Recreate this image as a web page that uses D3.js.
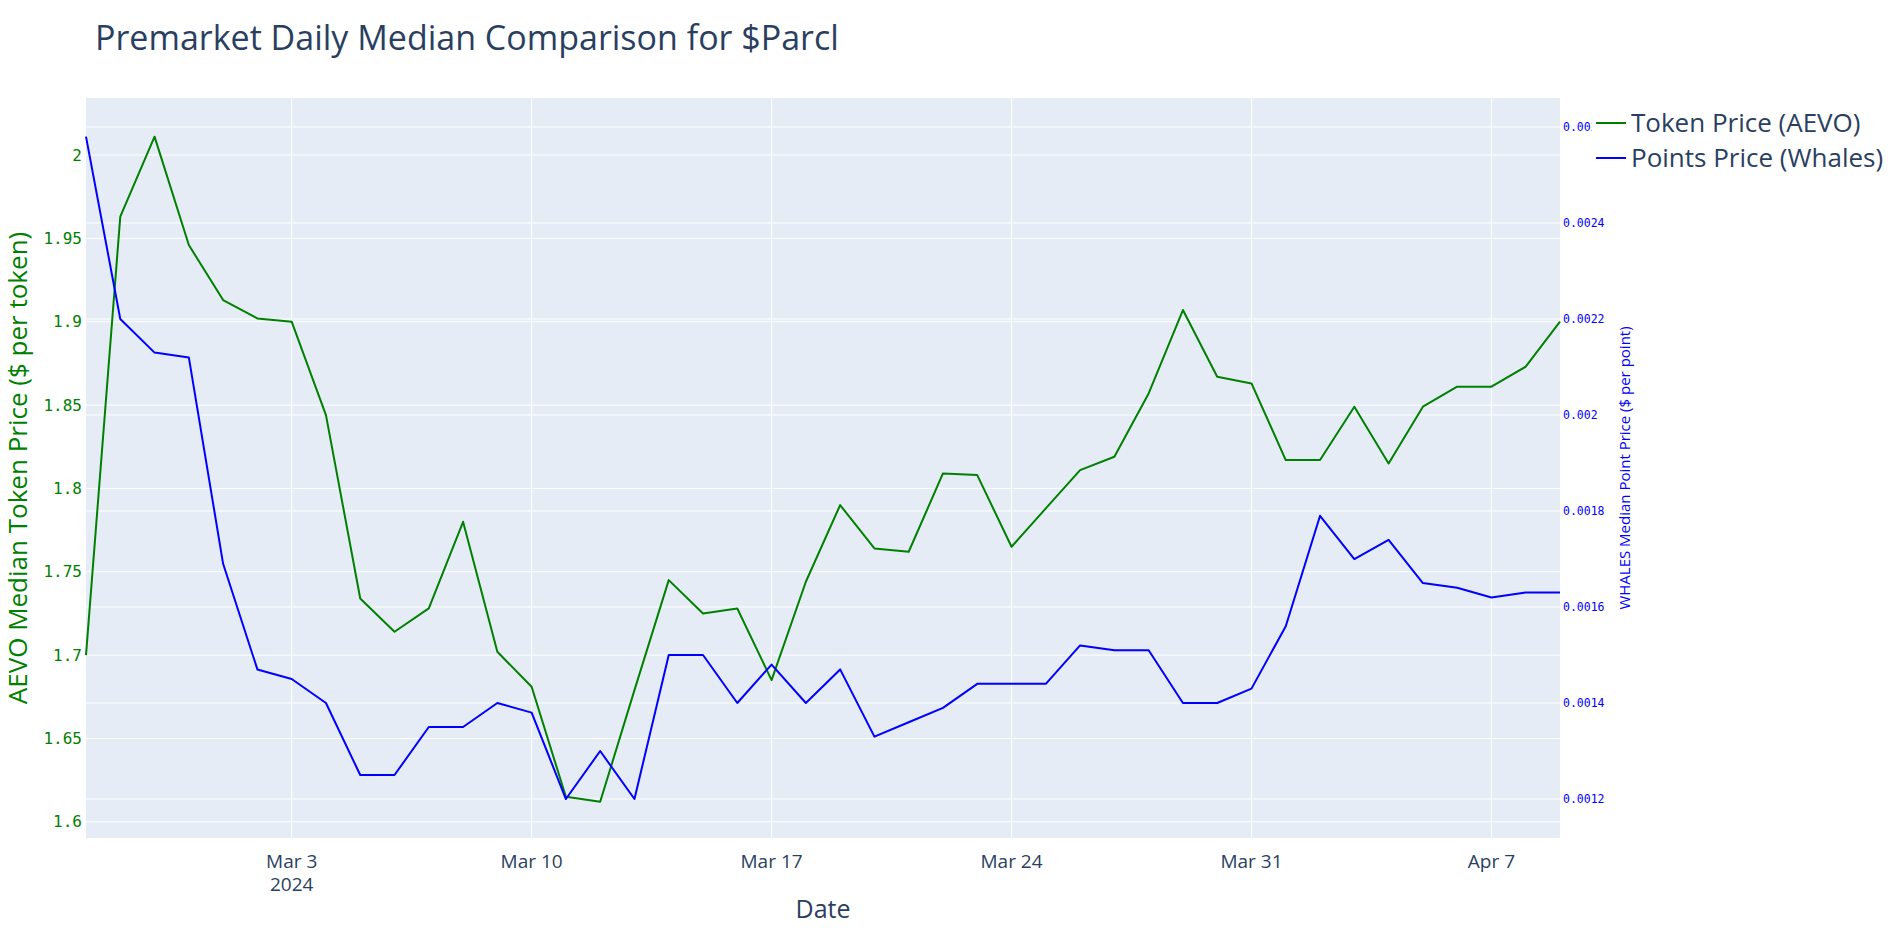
<!DOCTYPE html>
<html>
<head>
<meta charset="utf-8">
<script src="https://d3js.org/d3.v7.min.js"></script>
<style>
  body { margin: 0; background: #fff; }
  svg { display: block; }
</style>
</head>
<body>
<div id="chart"></div>
<script>
// daily dates, Feb 26 -> Apr 9 2024
var dates = [
  "2024-02-26","2024-02-27","2024-02-28","2024-02-29","2024-03-01","2024-03-02","2024-03-03",
  "2024-03-04","2024-03-05","2024-03-06","2024-03-07","2024-03-08","2024-03-09","2024-03-10",
  "2024-03-11","2024-03-12","2024-03-13","2024-03-14","2024-03-15","2024-03-16","2024-03-17",
  "2024-03-18","2024-03-19","2024-03-20","2024-03-21","2024-03-22","2024-03-23","2024-03-24",
  "2024-03-25","2024-03-26","2024-03-27","2024-03-28","2024-03-29","2024-03-30","2024-03-31",
  "2024-04-01","2024-04-02","2024-04-03","2024-04-04","2024-04-05","2024-04-06","2024-04-07",
  "2024-04-08","2024-04-09"
]

// AEVO median token price ($ per token)
var tokenPrice = [
  1.700, 1.963, 2.011, 1.946, 1.913, 1.902, 1.900,
  1.844, 1.734, 1.714, 1.728, 1.780, 1.702, 1.681,
  1.615, 1.612, 1.679, 1.745, 1.725, 1.728, 1.685,
  1.744, 1.790, 1.764, 1.762, 1.809, 1.808, 1.765,
  1.788, 1.811, 1.819, 1.857, 1.907, 1.867, 1.863,
  1.817, 1.817, 1.849, 1.815, 1.849, 1.861, 1.861,
  1.873, 1.900
]

// WHALES median point price ($ per point)
var pointPrice = [
  0.00258, 0.00220, 0.00213, 0.00212, 0.00169, 0.00147, 0.00145,
  0.00140, 0.00125, 0.00125, 0.00135, 0.00135, 0.00140, 0.00138,
  0.00120, 0.00130, 0.00120, 0.00150, 0.00150, 0.00140, 0.00148,
  0.00140, 0.00147, 0.00133, 0.00136, 0.00139, 0.00144, 0.00144,
  0.00144, 0.00152, 0.00151, 0.00151, 0.00140, 0.00140, 0.00143,
  0.00156, 0.00179, 0.00170, 0.00174, 0.00165, 0.00164, 0.00162,
  0.00163, 0.00163
]

var leftTicks  = [1.6, 1.65, 1.7, 1.75, 1.8, 1.85, 1.9, 1.95, 2]
var rightTicks = [0.0012, 0.0014, 0.0016, 0.0018, 0.002, 0.0022, 0.0024, 0.0026]
var xTicks = ["2024-03-03","2024-03-10","2024-03-17","2024-03-24","2024-03-31","2024-04-07"]

var seriesNames = ["Token Price (AEVO)", "Points Price (Whales)"]
var seriesColors = ["green", "blue"]

var W = 1904, H = 929
var plot = { left: 86, right: 1560, top: 98, bottom: 838 }
var sans = "'Open Sans', sans-serif"
var mono = "'DejaVu Sans Mono', monospace"

var svg = d3.select("#chart").append("svg")
  .attr("width", W).attr("height", H)

var parse = d3.utcParse("%Y-%m-%d")
var xDates = dates.map(parse)

var x = d3.scaleUtc()
  .domain(d3.extent(xDates))
  .range([plot.left, plot.right])

var yL = d3.scaleLinear()
  .domain([1.5903, 2.0342])
  .range([plot.bottom, plot.top])

var yR = d3.scaleLinear()
  .domain([0.0011188, 0.0026604])
  .range([plot.bottom, plot.top])

// plot background
svg.append("rect")
  .attr("x", plot.left).attr("y", plot.top)
  .attr("width", plot.right - plot.left).attr("height", plot.bottom - plot.top)
  .attr("fill", "#E5ECF6")

// grids
var grid = svg.append("g").attr("stroke", "#fff").attr("stroke-width", 1)
grid.selectAll(".gx").data(xTicks.map(parse)).enter().append("line")
  .attr("x1", d => x(d)).attr("x2", d => x(d))
  .attr("y1", plot.top).attr("y2", plot.bottom)
grid.selectAll(".gl").data(leftTicks).enter().append("line")
  .attr("x1", plot.left).attr("x2", plot.right)
  .attr("y1", d => yL(d)).attr("y2", d => yL(d))
grid.selectAll(".gr").data(rightTicks).enter().append("line")
  .attr("x1", plot.left).attr("x2", plot.right)
  .attr("y1", d => yR(d)).attr("y2", d => yR(d))

// lines
var lineL = d3.line().x((d, i) => x(xDates[i])).y(d => yL(d))
var lineR = d3.line().x((d, i) => x(xDates[i])).y(d => yR(d))

svg.append("path").datum(tokenPrice)
  .attr("d", lineL).attr("fill", "none")
  .attr("stroke", seriesColors[0]).attr("stroke-width", 2)
  .attr("stroke-linejoin", "round")
svg.append("path").datum(pointPrice)
  .attr("d", lineR).attr("fill", "none")
  .attr("stroke", seriesColors[1]).attr("stroke-width", 2)
  .attr("stroke-linejoin", "round")

// left axis labels
svg.append("g").selectAll("text").data(leftTicks).enter().append("text")
  .attr("x", 82).attr("y", d => yL(d))
  .attr("dy", "0.35em")
  .attr("text-anchor", "end")
  .attr("font-family", mono)
  .attr("font-size", 16)
  .attr("fill", "green")
  .text(d => d)

// right axis labels
svg.append("g").selectAll("text").data(rightTicks).enter().append("text")
  .attr("x", 1563).attr("y", d => yR(d))
  .attr("dy", "0.35em")
  .attr("font-family", mono)
  .attr("font-size", 11.5)
  .attr("fill", "blue")
  .text(d => d)

// x axis labels
var xFmt = d3.utcFormat("%b %-d")
svg.append("g").selectAll("text").data(xTicks.map(parse)).enter().append("text")
  .attr("x", d => x(d)).attr("y", 868)
  .attr("text-anchor", "middle")
  .attr("font-family", sans)
  .attr("font-size", 19)
  .attr("fill", "#2a3f5f")
  .text(d => xFmt(d))
svg.append("text")
  .attr("x", x(parse(xTicks[0]))).attr("y", 891)
  .attr("text-anchor", "middle")
  .attr("font-family", sans)
  .attr("font-size", 19)
  .attr("fill", "#2a3f5f")
  .text("2024")

// axis titles
svg.append("text")
  .attr("x", (plot.left + plot.right) / 2).attr("y", 918)
  .attr("text-anchor", "middle")
  .attr("font-family", sans)
  .attr("font-size", 25)
  .attr("fill", "#2a3f5f")
  .text("Date")

svg.append("text")
  .attr("transform", "translate(27," + (plot.top + plot.bottom) / 2 + ") rotate(-90)")
  .attr("text-anchor", "middle")
  .attr("font-family", sans)
  .attr("font-size", 26)
  .attr("fill", "green")
  .text("AEVO Median Token Price ($ per token)")

svg.append("text")
  .attr("transform", "translate(1630," + (plot.top + plot.bottom) / 2 + ") rotate(-90)")
  .attr("text-anchor", "middle")
  .attr("font-family", sans)
  .attr("font-size", 15)
  .attr("fill", "blue")
  .text("WHALES Median Point Price ($ per point)")

// title
svg.append("text")
  .attr("x", 95).attr("y", 50)
  .attr("font-family", sans)
  .attr("font-size", 34)
  .attr("fill", "#2a3f5f")
  .text("Premarket Daily Median Comparison for $Parcl")

// legend
var legend = svg.append("g")
legend.append("rect")
  .attr("x", 1592).attr("y", 100).attr("width", 312).attr("height", 78)
  .attr("fill", "#fff")
seriesNames.forEach(function(name, i) {
  var g = legend.append("g").attr("transform", "translate(1596," + (123 + i * 35) + ")")
  g.append("line").attr("x1", 0).attr("x2", 30)
    .attr("stroke", seriesColors[i]).attr("stroke-width", 2)
  g.append("text").attr("x", 35).attr("dy", "0.35em")
    .attr("font-family", sans)
    .attr("font-size", 26)
    .attr("fill", "#2a3f5f")
    .text(name)
})
</script>
</body>
</html>
